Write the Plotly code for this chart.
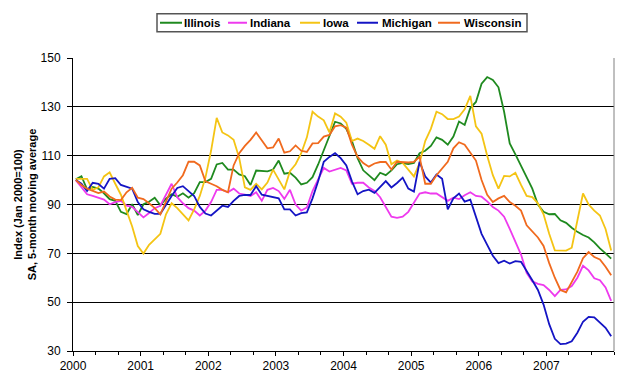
import numpy as np
import plotly.graph_objects as go

# ---------------- data (monthly index, Jan 2000 = 100, SA 5-month m.a.) ----------------
years = ["2000", "2001", "2002", "2003", "2004", "2005", "2006", "2007"]

illinois = [100.3, 101.6, 96.2, 97.2, 96.5, 94.6, 92.2, 91.5, 87, 86.1, 90.1, 85.7,
            90.1, 91.1, 92.8, 89.7, 92.4, 94.2, 93.2, 94.6, 92.8, 94.6, 99.2, 99.2,
            100.5, 106.4, 107, 104.3, 104.3, 102.3, 101.6, 98, 103.9, 103.9, 103.6, 104.3,
            108, 102.6, 103, 101, 98.2, 98.9, 101.2, 106.4, 112.4, 118.5, 123.9, 123.2,
            121, 116, 109, 104, 102, 100, 103, 102, 104, 106.5, 107, 106.6,
            107, 111, 112, 114, 117.5, 116.5, 114.5, 117.8, 124, 122.6, 129.5, 132,
            139.5, 142.2, 141, 138, 128, 115, 110.5, 106, 101.5, 96.5, 90, 87,
            86, 86.1, 83.5, 82.5, 80.5, 78.8, 77.5, 76.5, 74.5, 72, 70, 67.8]

indiana = [100, 97, 94.2, 93.5, 92.8, 92, 90.1, 91, 91.5, 89.5, 89, 86.8,
           84.7, 86.5, 88.5, 89.5, 94, 98.5, 93, 90.5, 88.5, 87.5, 85.5, 87.5,
           91, 96, 96, 95, 96.5, 94.5, 94, 93.5, 95, 91.5, 96, 96.8,
           95.5, 92.3, 96, 90, 87.5, 88.8, 95.5, 100, 105, 103.5, 104.3, 105,
           104, 98.5, 98.9, 98.9, 97, 95.6, 93, 89, 85, 84.5, 85, 87,
           91, 94.5, 95, 94.5, 94.5, 93, 91.5, 92.8, 92.2, 93.8, 95, 93.5,
           93.2, 91.3, 89, 87.5, 85, 80, 75, 69.5, 62, 58.5, 57.5, 57,
           55, 52.5, 55, 55.2, 56.6, 60, 64.9, 63, 59.8, 59, 56, 50.5]

iowa = [100.5, 100.5, 100.5, 96, 97, 101.5, 103.2, 98.5, 94, 87.5, 81, 73,
        69.9, 73.5, 75.8, 78, 86, 90.5, 88.5, 86, 83.5, 88, 93.5, 101,
        112, 125.5, 119.5, 118.3, 116.5, 109, 97, 96, 98.5, 96.2, 99, 104.3,
        100, 96.2, 103.6, 106.5, 111, 117.5, 128, 126, 124.5, 119.5, 127.3, 126,
        123.5, 116, 117, 116, 114.5, 112.8, 118, 114.5, 106.5, 108, 107, 104.3,
        101.5, 107, 116, 121, 128, 127, 125, 125, 126, 129, 134.5, 122,
        119, 110, 102, 96.5, 101.7, 101.5, 103, 98, 93.5, 93, 90.5, 86,
        78, 71.2, 71.1, 71.1, 72.3, 84, 94.5, 90, 87.5, 85.5, 80, 71.2]

michigan = [100, 98.5, 95.5, 98.9, 98.5, 96.5, 100.5, 100.8, 98, 97.3, 96.5, 91,
            88, 87, 86.2, 86.2, 90, 93.5, 96.8, 97.5, 95.5, 93.5, 89, 86.3,
            85.5, 87.5, 89.5, 89, 91.5, 93.5, 93.9, 93.9, 97.5, 94, 93.5, 92.8,
            92.5, 88, 88, 85.5, 86.5, 86.8, 92.5, 99.5, 107.5, 109.5, 111, 109,
            106, 99.5, 94.2, 95.5, 96.1, 94.8, 97.2, 99.6, 97, 98.8, 101, 96.5,
            95.3, 107.5, 101.5, 99, 102.3, 100.5, 88, 92.5, 94.5, 91.2, 92, 85,
            78, 73.5, 69, 66, 67, 65.8, 66.8, 66.5, 63, 59, 55, 49,
            41, 35, 32.8, 33, 34, 37.5, 42, 44, 43.8, 41.5, 39.5, 36]

wisconsin = [100, 98, 96.5, 95.5, 94.7, 95.3, 93.3, 92, 91.8, 95, 96.8, 92.8,
             92.2, 90.5, 88.5, 86, 91, 96.5, 99, 102, 107.5, 107.5, 106, 99.5,
             98.5, 97.5, 96, 95, 106, 111, 114, 116.5, 119.5, 116.5, 113, 113.4,
             117, 111.2, 111.8, 114.2, 112, 111.5, 115, 115.1, 117.8, 118.5, 122, 122.5,
             121.5, 114.5, 109.5, 107, 105.5, 106.8, 107.4, 107.4, 104.3, 107.5, 107.4, 107.2,
             107.5, 109.5, 98.5, 98.5, 102, 105, 107.5, 113, 115.5, 114.5, 111, 108,
             100, 94, 91, 92.5, 93.5, 91, 89.5, 87.5, 81.5, 79, 76.5, 73,
             66, 60, 55, 54, 58, 62.5, 68, 70.5, 68.5, 67.5, 64.5, 61]

states = ["Illinois", "Indiana", "Iowa", "Michigan", "Wisconsin"]
series = [illinois, indiana, iowa, michigan, wisconsin]
colors = ["#1F8A1F", "#EE3AEE", "#F4C414", "#1414C4", "#F06A1E"]

# ---------------- figure ----------------
W, H = 623, 382
L, R, T, B = 73, 9, 58, 29
PW, PH = W - L - R, H - T - B

n = len(illinois)
x = np.arange(n) + 0.5  # points sit between month tick marks
year_ticks = [12 * i for i in range(len(years))]

fig = go.Figure()
for name, vals, col in zip(states, series, colors):
    fig.add_trace(go.Scatter(x=x, y=vals, mode="lines", name=name,
                             line=dict(color=col, width=1.8),
                             showlegend=False, hoverinfo="x+y+name"))

fig.update_layout(
    width=W, height=H,
    margin=dict(l=L, r=R, t=T, b=B, pad=0),
    paper_bgcolor="white", plot_bgcolor="white",
    font=dict(family="Liberation Sans, Arial, sans-serif", size=12, color="black"),
)

fig.update_xaxes(
    range=[0, n], tickmode="array", tickvals=year_ticks, ticktext=years,
    ticks="outside", ticklen=4, tickwidth=1, tickcolor="black",
    showline=True, linecolor="black", linewidth=1,
    showgrid=False, zeroline=False,
    tickfont=dict(size=12),
    minor=dict(tickmode="linear", tick0=0, dtick=4, ticks="outside",
               ticklen=3, tickcolor="black", showgrid=False),
)

fig.update_yaxes(
    range=[30, 150], tick0=30, dtick=20,
    ticks="outside", ticklen=5, tickwidth=1, tickcolor="black",
    showline=True, linecolor="black", linewidth=1,
    showgrid=True, gridcolor="black", gridwidth=1, zeroline=False,
    tickfont=dict(size=12), ticklabelstandoff=4,
    title=dict(text="Index (Jan 2000=100)<br>SA, 5-month moving average",
               font=dict(size=11, weight="bold"), standoff=1),
)

# inner half of the crossing year tick marks
fig.update_layout(xaxis2=dict(overlaying="x", anchor="y", side="bottom",
                              range=[0, n], tickmode="array", tickvals=year_ticks,
                              ticks="inside", ticklen=4, tickcolor="black",
                              showticklabels=False, showgrid=False,
                              zeroline=False, showline=False))

# right frame edge
fig.add_shape(type="line", xref="paper", yref="paper", x0=1, x1=1, y0=0, y1=1,
              line=dict(color="#808080", width=1))

# ---------------- boxed legend row above the plot ----------------
def px_x(p):
    return (p - L) / PW

def px_y(p):
    return (H - B - p) / PH

leg_y = 22.5
fig.add_shape(type="rect", xref="paper", yref="paper",
              x0=px_x(157), x1=px_x(527), y0=px_y(13.5), y1=px_y(31.5),
              line=dict(color="#555555", width=1.5), fillcolor="white")
line_spans = [(160, 182), (228, 247), (300, 320), (357, 378), (438, 460)]
text_x = [184, 250, 323, 382, 464]
for (a, b), tx, name, col in zip(line_spans, text_x, states, colors):
    fig.add_shape(type="line", xref="paper", yref="paper",
                  x0=px_x(a), x1=px_x(b), y0=px_y(leg_y), y1=px_y(leg_y),
                  line=dict(color=col, width=2))
    fig.add_annotation(x=px_x(tx - 1), y=px_y(leg_y), xref="paper", yref="paper",
                       text=name, showarrow=False, xanchor="left", yanchor="middle",
                       font=dict(size=11.5, weight="bold", color="black"),
                       borderpad=0)

fig.write_html("out.html",
               config={"displayModeBar": False},
               post_script="document.body.style.margin='0';document.body.style.overflow='hidden';")
